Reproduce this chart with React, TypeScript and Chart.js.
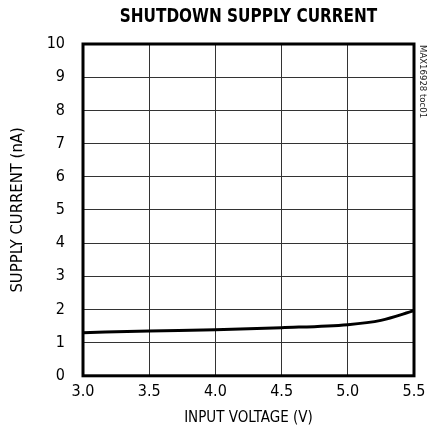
import React, { useEffect, useRef } from "react";
import { Chart, registerables } from "chart.js";

Chart.register(...registerables);

const voltages = [3.0, 3.5, 4.0, 4.5, 5.0, 5.25, 5.5];
const currents = [1.3, 1.35, 1.39, 1.45, 1.54, 1.67, 1.96];
const xTicks = [3.0, 3.5, 4.0, 4.5, 5.0, 5.5];
const yTicks = [0, 1, 2, 3, 4, 5, 6, 7, 8, 9, 10];
const titleText = "SHUTDOWN SUPPLY CURRENT";
const sideNote = "MAX16928 toc01";

const FONT = "'DejaVu Sans Condensed', 'Liberation Sans Narrow', sans-serif";

const framePlugin = {
  id: "frame",
  afterDraw(chart: any) {
    const { ctx, chartArea } = chart;
    ctx.save();
    ctx.strokeStyle = "#000";
    ctx.lineWidth = 3;
    ctx.strokeRect(chartArea.left, chartArea.top, chartArea.right - chartArea.left, chartArea.bottom - chartArea.top);
    ctx.restore();

    // title
    ctx.save();
    ctx.translate((chartArea.left + chartArea.right) / 2, 17);
    ctx.scale(0.85, 1);
    ctx.font = `bold 20px ${FONT}`;
    ctx.fillStyle = "#000";
    ctx.textAlign = "center";
    ctx.textBaseline = "middle";
    ctx.fillText(titleText, 0, 0);
    ctx.restore();

    // side note
    ctx.save();
    ctx.translate(chartArea.right + 8, chartArea.top + 1);
    ctx.rotate(Math.PI / 2);
    ctx.font = `9.5px ${FONT}`;
    ctx.fillStyle = "#222";
    ctx.textAlign = "left";
    ctx.textBaseline = "middle";
    ctx.fillText(sideNote, 0, 0);
    ctx.restore();
  },
};

export default function App() {
  const ref = useRef<HTMLCanvasElement>(null);
  useEffect(() => {
    if (!ref.current) return;
    const chart = new Chart(ref.current, {
      type: "line",
      data: {
        datasets: [
          {
            data: voltages.map((v, i) => ({ x: v, y: currents[i] })),
            borderColor: "#000",
            borderWidth: 3,
            pointRadius: 0,
            cubicInterpolationMode: "monotone",
            fill: false,
          },
        ],
      },
      options: {
        animation: false,
        responsive: false,
        layout: { padding: { left: 0, right: 13, top: 44, bottom: 7 } },
        plugins: {
          legend: { display: false },
          tooltip: { enabled: false },
          title: { display: false },
        },
        scales: {
          x: {
            type: "linear",
            min: 3.0,
            max: 5.5,
            afterBuildTicks: (s: any) => {
              s.ticks = xTicks.map((v) => ({ value: v }));
            },
            afterFit: (s: any) => {
              s.paddingLeft = 0;
              s.paddingRight = 0;
            },
            ticks: {
              color: "#000",
              font: { family: FONT, size: 16 },
              padding: 6,
              maxRotation: 0,
              callback: (v: any) => Number(v).toFixed(1),
            },
            grid: { color: "#333", lineWidth: 1, drawTicks: false },
            border: { display: false },
            title: {
              display: true,
              text: "INPUT VOLTAGE (V)",
              color: "#000",
              font: { family: FONT, size: 15 },
              padding: { top: 2, bottom: 3 },
            },
          },
          y: {
            min: 0,
            max: 10,
            afterBuildTicks: (s: any) => {
              s.ticks = yTicks.map((v) => ({ value: v }));
            },
            afterFit: (s: any) => {
              s.width = 83;
              s.paddingTop = 0;
              s.paddingBottom = 0;
            },
            ticks: {
              color: "#000",
              font: { family: FONT, size: 16 },
              padding: 18,
            },
            grid: { color: "#333", lineWidth: 1, drawTicks: false },
            border: { display: false },
            title: {
              display: true,
              text: "SUPPLY CURRENT (nA)",
              color: "#000",
              font: { family: FONT, size: 16.5 },
              padding: { top: 8, bottom: 0 },
            },
          },
        },
      },
      plugins: [framePlugin],
    });
    return () => chart.destroy();
  }, []);
  return (
    <div style={{ position: "fixed", left: 0, top: 0, width: 427, height: 437, background: "#fff" }}>
      <canvas ref={ref} width={427} height={437} style={{ width: 427, height: 437 }} />
    </div>
  );
}
